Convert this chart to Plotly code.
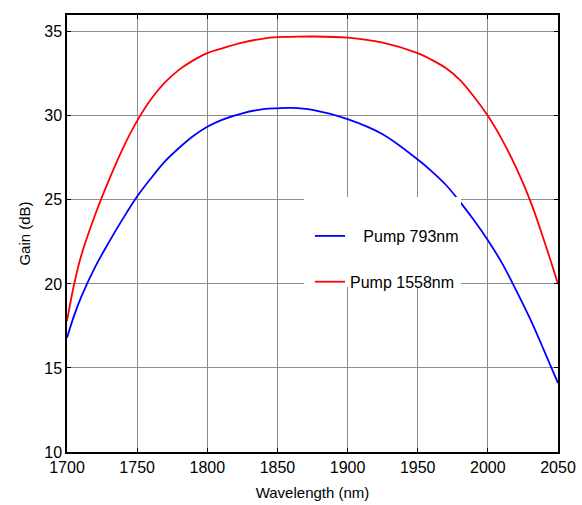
import plotly.graph_objects as go

wavelength = [1700, 1705, 1710, 1720, 1730, 1740, 1750, 1760, 1770, 1780, 1790, 1800, 1810,
              1825, 1840, 1850, 1860, 1875, 1900, 1925, 1950, 1960, 1970, 1980, 1990, 2000,
              2010, 2020, 2030, 2040, 2050]
gain_793 = [16.8, 18.1, 19.2, 21.0, 22.5, 23.9, 25.2, 26.3, 27.3, 28.1, 28.8, 29.35, 29.75,
            30.15, 30.4, 30.45, 30.47, 30.35, 29.8, 28.9, 27.4, 26.7, 25.9, 24.9, 23.8, 22.6,
            21.25, 19.65, 17.95, 16.05, 14.1]
gain_1558 = [17.8, 19.95, 21.65, 24.1, 26.2, 28.1, 29.7, 31.0, 32.0, 32.75, 33.3, 33.73, 34.0,
             34.35, 34.6, 34.68, 34.7, 34.72, 34.65, 34.35, 33.73, 33.33, 32.84, 32.14, 31.15,
             30.0, 28.6, 26.95, 25.0, 22.6, 20.0]
names = ["\u00a0\u00a0\u00a0Pump 793nm", "Pump 1558nm"]
colors = ["#0000ff", "#ff0000"]

fig = go.Figure()
for i, (ys, nm, c) in enumerate(zip([gain_793, gain_1558], names, colors)):
    fig.add_trace(go.Scatter(x=wavelength, y=ys, mode="lines", name=nm,
                             line=dict(color=c, width=1.8, shape="spline", smoothing=1.0),
                             legendgroup=f"g{i}"))

L, R, T, B = 67, 24, 15, 53
W, H = 582, 505
pw, ph = W - L - R, H - T - B

def px_x(p):
    return (p - L) / pw

def px_y(p):
    return (H - B - p) / ph

fig.add_shape(type="rect", xref="paper", yref="paper",
              x0=px_x(304), x1=px_x(461), y0=px_y(287), y1=px_y(197),
              fillcolor="white", line=dict(width=0), layer="above")

font = "Liberation Sans, Arial, sans-serif"
axis_common = dict(showline=True, linecolor="black", linewidth=1.5, mirror="ticks",
                   ticks="inside", ticklen=4, tickcolor="black", tickwidth=1,
                   showgrid=True, gridcolor="#8c8c8c", gridwidth=1, zeroline=False,
                   automargin=False,
                   tickfont=dict(family=font, size=16, color="black"))

fig.update_layout(
    width=W, height=H,
    margin=dict(l=L, r=R, t=T, b=B, pad=0, autoexpand=False),
    paper_bgcolor="white", plot_bgcolor="white",
    font=dict(family=font, color="black"),
    showlegend=True,
    legend=dict(x=px_x(310), y=px_y(219), xanchor="left", yanchor="top",
                bgcolor="rgba(0,0,0,0)", borderwidth=0,
                font=dict(family=font, size=16, color="black"),
                tracegroupgap=22, traceorder="grouped"),
    xaxis=dict(range=[1700, 2050], tickvals=[1700, 1750, 1800, 1850, 1900, 1950, 2000, 2050],
               title=dict(text="Wavelength (nm)", font=dict(family=font, size=15), standoff=13),
               **axis_common),
    yaxis=dict(range=[10, 36], tickvals=[10, 15, 20, 25, 30, 35],
               title=dict(text="Gain (dB)", font=dict(family=font, size=15), standoff=10),
               **axis_common),
)

fig.write_html("out.html")
